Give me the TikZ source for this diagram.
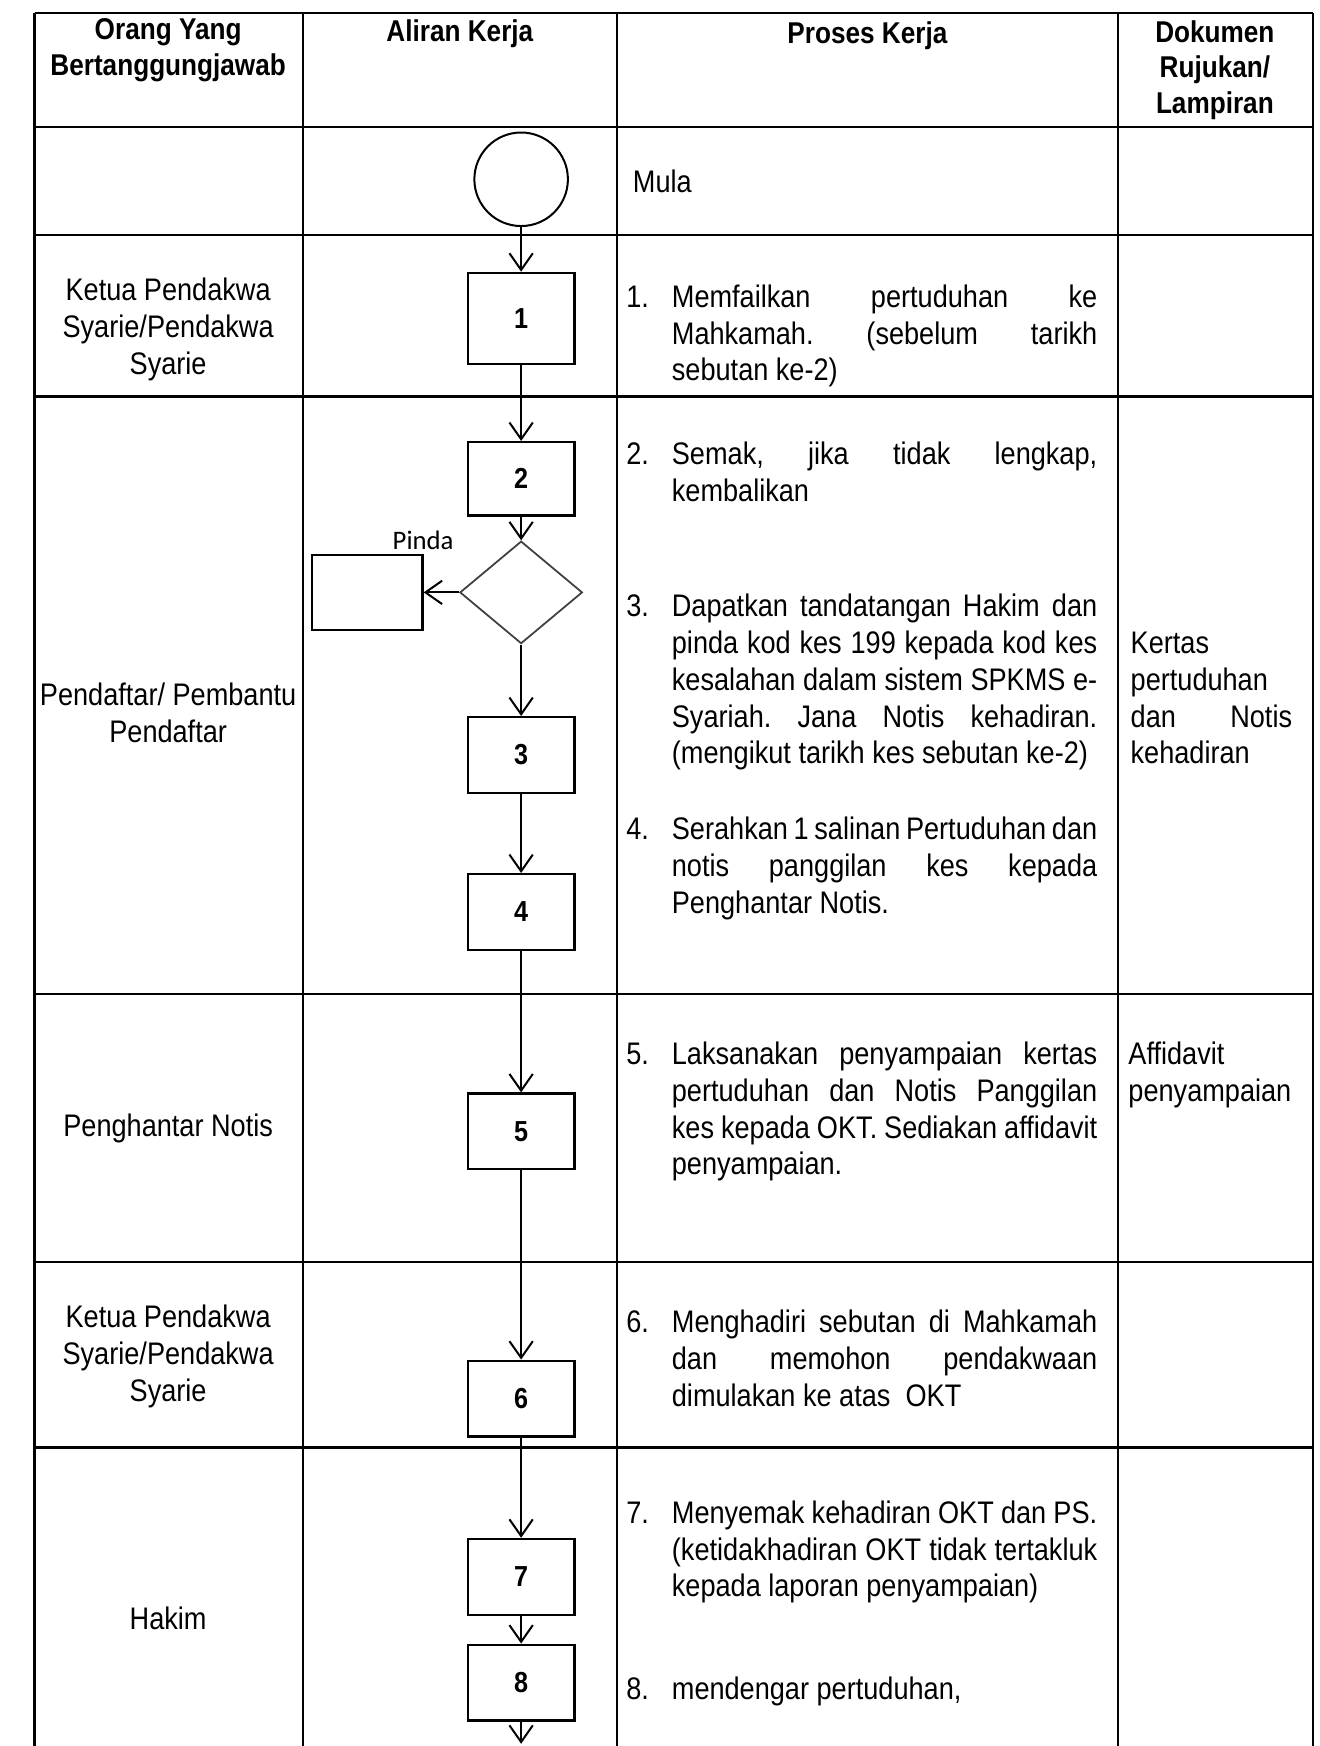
\documentclass[tikz,border=0pt]{standalone}
\usepackage{fontspec}
\setmainfont{Liberation Sans}[FakeStretch=0.87]
\newfontfamily\pindafont{Carlito}
\usetikzlibrary{shapes.geometric,arrows.meta}
\frenchspacing
\newcommand\JL[1]{\makebox[\linewidth][s]{#1}\\}
\tikzset{
  tbl/.style={line width=1pt},
  fbox/.style={draw, line width=1pt, minimum width=48pt, minimum height=34pt, inner sep=0pt,
    font=\fontsize{13pt}{15pt}\selectfont\bfseries},
  flow/.style={line width=0.9pt, -{Straight Barb[length=7.5pt,width=10.5pt]}},
  txt/.style={inner sep=0pt, font=\fontsize{14pt}{16.5pt}\selectfont},
  ctxt/.style={txt, align=center},
  htxt/.style={inner sep=0pt, align=center, font=\fontsize{13.5pt}{16pt}\selectfont\bfseries},
}
\begin{document}
\begin{tikzpicture}[x=0.5pt,y=-0.5pt]
\useasboundingbox (0,0) rectangle (1185,1568);
% table grid
\foreach \yy in {12,114,211,356,893,1133,1300}
  \draw[tbl] (31,\yy) -- (1179,\yy);
\foreach \xx in {31,272,554,1004,1179}
  \draw[tbl] (\xx,12) -- (\xx,1568);
% header
\node[htxt] (h1) at (151,45) {Orang Yang\\Bertanggungjawab};
\node[htxt] (h2) at (413,30) {Aliran Kerja};
\node[htxt] (h3) at (779,32) {Proses Kerja};
\node[htxt] (h4) at (1091,63) {Dokumen\\Rujukan/\\Lampiran};
% responsible persons
\node[ctxt] (r1) at (151,296) {Ketua Pendakwa\\Syarie/Pendakwa\\Syarie};
\node[ctxt] (r2) at (151,640) {Pendaftar/ Pembantu\\Pendaftar};
\node[ctxt] (r3) at (151,1013) {Penghantar Notis};
\node[ctxt] (r4) at (151,1218) {Ketua Pendakwa\\Syarie/Pendakwa\\Syarie};
\node[ctxt] (r5) at (151,1453) {Hakim};
% flow
\node[draw, circle, minimum size=42pt, inner sep=0pt, line width=0.9pt] (start) at (468,161) {};
\node[fbox, minimum height=41pt] (b1) at (468,286) {1};
\node[fbox, minimum height=33pt] (b2) at (468,430) {2};
\node[draw=black!75, diamond, minimum width=55pt, minimum height=46pt, inner sep=0pt, line width=0.8pt] (dec) at (468,532) {};
\node[draw, minimum width=49.5pt, minimum height=33.5pt, inner sep=0pt, line width=1pt] (pbox) at (330,532) {};
\node[inner sep=0pt, font=\fontsize{12pt}{14pt}\pindafont] (pinda) at (380,485) {Pinda};
\node[fbox] (b3) at (468,678) {3};
\node[fbox] (b4) at (468,819) {4};
\node[fbox] (b5) at (468,1016) {5};
\node[fbox] (b6) at (468,1256) {6};
\node[fbox] (b7) at (468,1416) {7};
\node[fbox] (b8) at (468,1511) {8};
\coordinate (endpt) at (468,1566);
\draw[flow] (start.south) -- (b1.north);
\draw[flow] (b1) -- (b2);
\draw[flow] (b2) -- (dec);
\draw[flow] (dec) -- (pbox);
\draw[flow] (dec) -- (b3);
\draw[flow] (b3) -- (b4);
\draw[flow] (b4) -- (b5);
\draw[flow] (b5) -- (b6);
\draw[flow] (b6) -- (b7);
\draw[flow] (b7) -- (b8);
\draw[flow] (b8) -- (endpt);
% process texts
\node[txt, anchor=west] (mula) at (568,163) {Mula};
\node[txt, anchor=base west] (p1) at (562,276) {\makebox[20.5pt][l]{1.}\parbox[t]{191pt}{\JL{Memfailkan pertuduhan ke}\JL{Mahkamah. (sebelum tarikh}sebutan ke-2)}};
\node[txt, anchor=base west] (p2) at (562,417) {\makebox[20.5pt][l]{2.}\parbox[t]{191pt}{\JL{Semak, jika tidak lengkap,}kembalikan}};
\node[txt, anchor=base west] (p3) at (562,554) {\makebox[20.5pt][l]{3.}\parbox[t]{191pt}{\JL{Dapatkan tandatangan Hakim dan}\JL{pinda kod kes 199 kepada kod kes}\JL{kesalahan dalam sistem SPKMS e-}\JL{Syariah. Jana Notis kehadiran.}(mengikut tarikh kes sebutan ke-2)}};
\node[txt, anchor=base west] (p4) at (562,754) {\makebox[20.5pt][l]{4.}\parbox[t]{191pt}{\JL{Serahkan 1 salinan Pertuduhan dan}\JL{notis panggilan kes kepada}Penghantar Notis.}};
\node[txt, anchor=base west] (p5) at (562,956) {\makebox[20.5pt][l]{5.}\parbox[t]{191pt}{\JL{Laksanakan penyampaian kertas}\JL{pertuduhan dan Notis Panggilan}\JL{kes kepada OKT. Sediakan affidavit}penyampaian.}};
\node[txt, anchor=base west] (p6) at (562,1197) {\makebox[20.5pt][l]{6.}\parbox[t]{191pt}{\JL{Menghadiri sebutan di Mahkamah}\JL{dan memohon pendakwaan}dimulakan ke atas \ OKT}};
\node[txt, anchor=base west] (p7) at (562,1368) {\makebox[20.5pt][l]{7.}\parbox[t]{191pt}{\JL{Menyemak kehadiran OKT dan PS.}\JL{(ketidakhadiran OKT tidak tertakluk}kepada laporan penyampaian)}};
\node[txt, anchor=base west] (p8) at (562,1526) {\makebox[20.5pt][l]{8.}\parbox[t]{191pt}{mendengar pertuduhan,}};
% documents
\node[txt, anchor=base west] (d3) at (1015,587) {\parbox[t]{72.5pt}{Kertas\\pertuduhan\\\JL{dan Notis}kehadiran}};
\node[txt, anchor=base west] (d5) at (1013,956) {\parbox[t]{80pt}{Affidavit\\penyampaian}};
\end{tikzpicture}
\end{document}
